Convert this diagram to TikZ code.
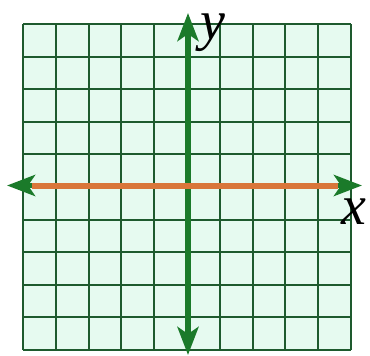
\documentclass[tikz,border=0pt]{standalone}
\usepackage{fontspec}
\setmainfont{Liberation Serif}
\usetikzlibrary{arrows.meta}
\definecolor{cellfill}{HTML}{E6FAF0}
\definecolor{gridgreen}{HTML}{1E5A2E}
\definecolor{axisgreen}{HTML}{1B7A2A}
\definecolor{lineorange}{HTML}{D9763A}
\tikzset{
  gridline/.style={draw=gridgreen, line width=2pt},
  axisline/.style={draw=axisgreen, line width=5.5pt, {Stealth[length=28pt,width=21pt,inset=7pt]}-{Stealth[length=28pt,width=21pt,inset=7pt]}},
  orangeline/.style={draw=lineorange, line width=6pt},
  axislabel/.style={font=\fontsize{56}{56}\selectfont\itshape, inner sep=0pt, anchor=base, text height=27pt, text depth=13pt}
}
\begin{document}
\begin{tikzpicture}[x=1pt,y=-1pt]
\useasboundingbox (0,0) rectangle (370,356);
\fill[white] (0,0) rectangle (370,356);
\fill[cellfill] (23,24) rectangle (351,350);
\foreach \xx in {23,55.8,88.6,121.4,154.2,187,219.8,252.6,285.4,318.2,351}
  \draw[gridline] (\xx,24) -- (\xx,350);
\foreach \yy in {24,56.6,89.2,121.8,154.4,187,219.6,252.2,284.8,317.4,350}
  \draw[gridline] (23,\yy) -- (351,\yy);
\coordinate (ytop) at (188,13);
\coordinate (ybot) at (188,355);
\coordinate (xleft) at (7,185.5);
\coordinate (xright) at (362,185.5);
\coordinate (oleft) at (32,185.5);
\coordinate (oright) at (338,185.5);
\draw[axisline] (ybot) -- (ytop);
\draw[axisline] (xleft) -- (xright);
\draw[orangeline] (oleft) -- (oright);
\node[axislabel] (ylab) at (213,39) {y};
\node[axislabel] (xlab) at (354,224) {x};
\end{tikzpicture}
\end{document}
